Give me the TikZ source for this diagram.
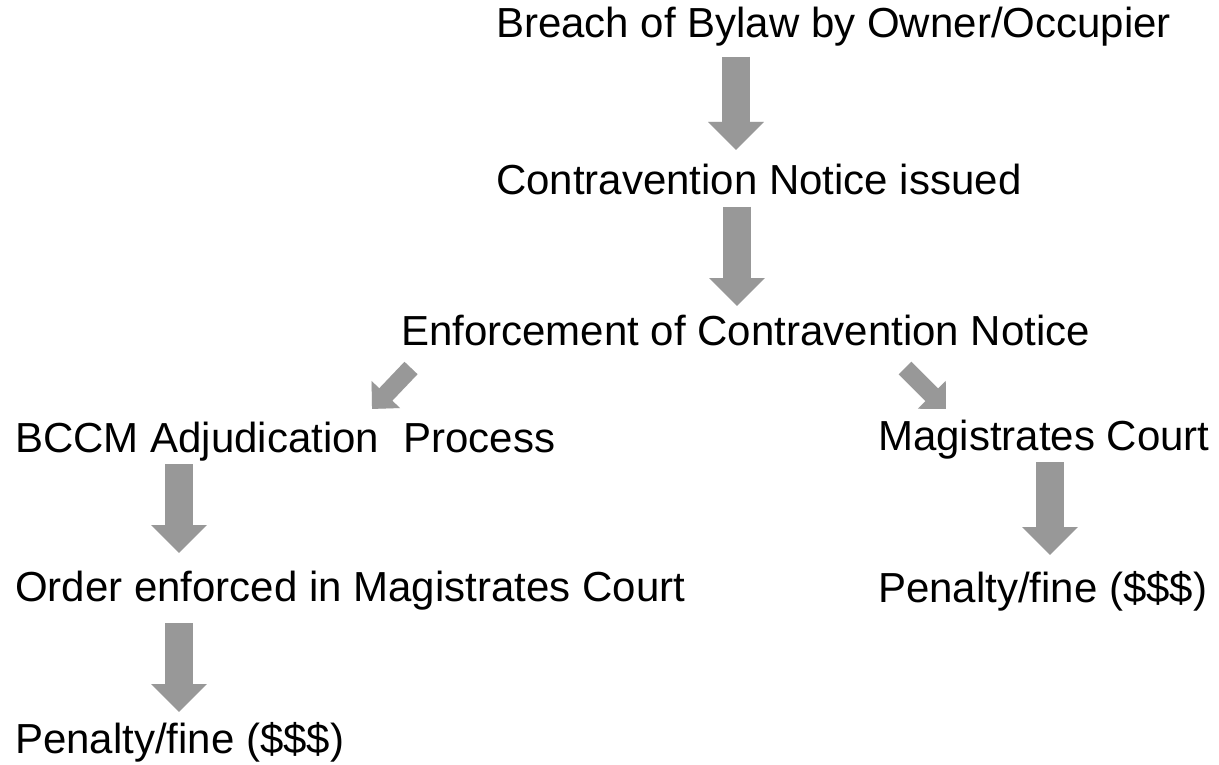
\documentclass[tikz,border=0pt]{standalone}
\usepackage{fontspec}
\setmainfont{Liberation Sans}
\usetikzlibrary{arrows.meta}
\definecolor{arrowgray}{RGB}{152,152,152}
\definecolor{shadowgray}{RGB}{200,200,200}
\begin{document}
\begin{tikzpicture}[x=1pt,y=-1pt,
  lbl/.style={anchor=base west,inner sep=0pt,font=\fontsize{42}{50}\selectfont},
  bigarrow/.style={draw=arrowgray,line width=28pt,-{Triangle[width=54pt,length=28pt]}},
  smallarrow/.style={draw=arrowgray,line width=18pt,-{Triangle[width=38pt,length=20pt]}},
  bigshadow/.style={draw=shadowgray,opacity=0.5,line width=28pt,-{Triangle[width=54pt,length=28pt]}},
  smallshadow/.style={draw=shadowgray,opacity=0.5,line width=18pt,-{Triangle[width=38pt,length=20pt]}}]
\useasboundingbox[fill=white] (0,0) rectangle (1219,765);

% texts
\node[lbl] (breach) at (496,38) {Breach of Bylaw by Owner/Occupier};
\node[lbl] (contra) at (496,194) {Contravention Notice issued};
\node[lbl] (enf) at (401,345) {Enforcement of Contravention Notice};
\node[lbl] (bccm) at (15,452) {BCCM Adjudication\hspace{0.3em} Process};
\node[lbl] (magc) at (878,450) {Magistrates Court};
\node[lbl] (order) at (15,601) {Order enforced in Magistrates Court};
\node[lbl] (penr) at (878,602) {Penalty/fine (\$\$\$)};
\node[lbl] (penl) at (15,753) {Penalty/fine (\$\$\$)};

% arrow end points
\coordinate (a1s) at (736,57);  \coordinate (a1e) at (736,150);
\coordinate (a2s) at (737,207); \coordinate (a2e) at (737,306);
\coordinate (a3s) at (411,368); \coordinate (a3e) at (372,409);
\coordinate (a4s) at (905,368); \coordinate (a4e) at (946,409);
\coordinate (a5s) at (179,464); \coordinate (a5e) at (179,553);
\coordinate (a6s) at (1050,462); \coordinate (a6e) at (1050,555);
\coordinate (a7s) at (179,623); \coordinate (a7e) at (179,712);

% shadows
\begin{scope}[shift={(1,3)}]
\draw[bigshadow] (a1s) -- (a1e);
\draw[bigshadow] (a2s) -- (a2e);
\draw[smallshadow] (a3s) -- (a3e);
\draw[smallshadow] (a4s) -- (a4e);
\draw[bigshadow] (a5s) -- (a5e);
\draw[bigshadow] (a6s) -- (a6e);
\draw[bigshadow] (a7s) -- (a7e);
\end{scope}

% arrows
\draw[bigarrow] (a1s) -- (a1e);
\draw[bigarrow] (a2s) -- (a2e);
\draw[smallarrow] (a3s) -- (a3e);
\draw[smallarrow] (a4s) -- (a4e);
\draw[bigarrow] (a5s) -- (a5e);
\draw[bigarrow] (a6s) -- (a6e);
\draw[bigarrow] (a7s) -- (a7e);
\end{tikzpicture}
\end{document}
